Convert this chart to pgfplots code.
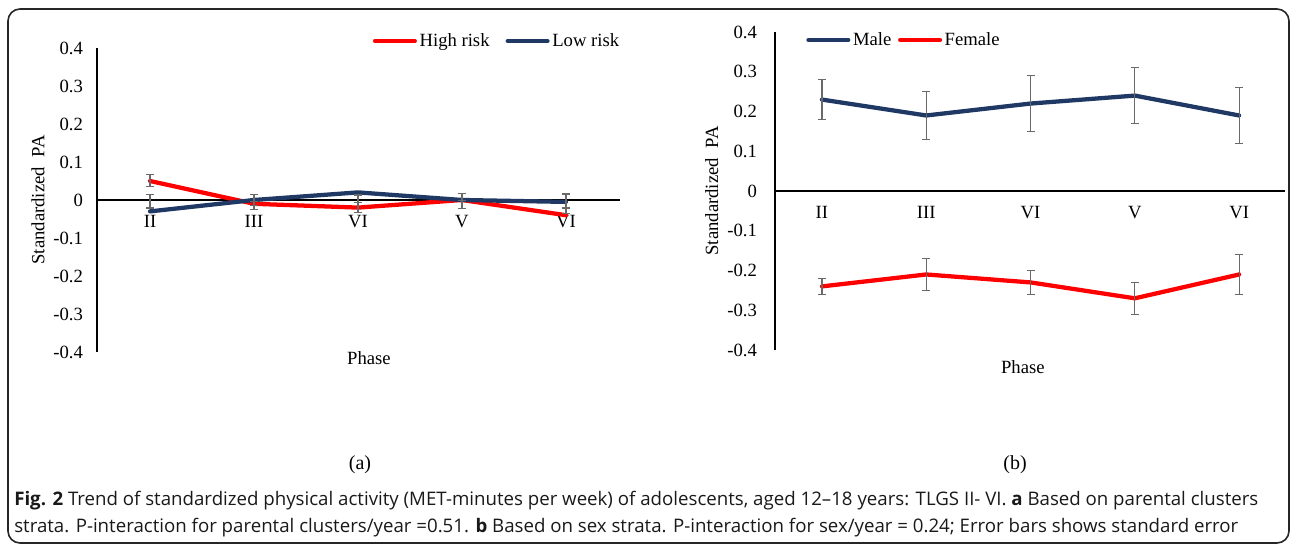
\documentclass[border=0pt]{standalone}
\usepackage{pgfplots}
\usepackage{pgfplotstable}
\pgfplotsset{compat=1.18}
\usepackage{fontspec}
\setmainfont{Liberation Serif}
\newfontfamily\capfont{Open Sans}
\definecolor{navy}{RGB}{31,56,100}
\definecolor{hired}{RGB}{255,0,0}
\definecolor{errgray}{RGB}{105,105,105}

\pgfplotstableread{
x y
0 0.05
1 -0.01
2 -0.02
3 0.00
4 -0.04
}\highrisk
\pgfplotstableread{
x y
0 -0.03
1 0.00
2 0.02
3 0.00
4 -0.005
}\lowrisk
\pgfplotstableread{
x y e
0 0.051 0.016
0 -0.0035 0.0175
1 0.0 0.014
1 -0.0155 0.0105
2 0.0035 0.0095
2 -0.019 0.013
3 0.008 0.01
3 -0.012 0.01
4 -0.0025 0.0185
4 -0.028 0.007
}\errA
\pgfplotstableread{
x y ep em
0 0.23 0.05 0.05
1 0.19 0.06 0.06
2 0.22 0.07 0.07
3 0.24 0.07 0.07
4 0.19 0.07 0.07
}\male
\pgfplotstableread{
x y ep em
0 -0.24 0.02 0.02
1 -0.21 0.04 0.04
2 -0.23 0.03 0.03
3 -0.27 0.04 0.04
4 -0.21 0.05 0.05
}\female

\pgfplotsset{
  panel/.style={
    scale only axis,
    axis x line=middle,
    axis y line=left,
    axis line style={-, black, line width=0.8pt},
    ymin=-0.4, ymax=0.4,
    ytick={-0.4,-0.3,-0.2,-0.1,0,0.1,0.2,0.3,0.4},
    yticklabels={-0.4,-0.3,-0.2,-0.1,0,0.1,0.2,0.3,0.4},
    xtick={0,1,2,3,4},
    xticklabels={II,III,VI,V,VI},
    major tick length=0pt,
    tick label style={font=\fontsize{14}{16}\selectfont},
    xticklabel style={yshift=-8pt},
    legend columns=2,
    legend cell align=left,
    legend style={draw=none, fill=none, inner sep=0pt,
      font=\fontsize{14}{16}\selectfont},
    legend image code/.code={\draw[#1, line width=3pt, line cap=round] (0pt,0pt) -- (30pt,0pt);},
    every axis plot/.append style={line width=3.2pt, line join=round, line cap=round},
    clip=false,
  },
  errs/.style={
    draw=none, mark=none,
    error bars/.cd, y dir=both, y explicit,
    error bar style={draw=errgray, line width=0.9pt, line cap=butt},
    error mark options={rotate=90, mark size=3pt, line width=0.9pt, draw=errgray},
  },
}

\begin{document}
\begin{tikzpicture}
\path (0pt,0pt) rectangle (969pt,411pt);
\draw[line width=1.2pt, rounded corners=9pt, black!85] (6pt,3.75pt) rectangle (966.75pt,404.25pt);

\begin{axis}[panel,
  at={(72.75pt,147pt)}, anchor=south west,
  width=392.25pt, height=228pt,
  xmin=-0.51, xmax=4.52,
  yticklabel style={xshift=-7pt},
  ylabel={Standardized~~PA},
  xlabel={Phase},
  every axis y label/.style={at={(axis description cs:-0.113,0.5)}, rotate=90, anchor=center, font=\fontsize{14}{16}\selectfont},
  every axis x label/.style={at={(axis description cs:0.52,-0.02)}, anchor=center, font=\fontsize{14}{16}\selectfont},
  legend style={at={(axis description cs:1.004,1.023)}, anchor=east,
    /tikz/every even column/.append style={column sep=10pt}},
]
\addplot[hired, mark=none] table[x=x,y=y] {\highrisk};
\addlegendentry{High risk}
\addplot[navy, mark=none] table[x=x,y=y] {\lowrisk};
\addlegendentry{Low risk}
\addplot[forget plot, errs] table[x=x,y=y,y error=e] {\errA};
\end{axis}

\begin{axis}[panel,
  at={(581.25pt,148.5pt)}, anchor=south west,
  width=382.5pt, height=238.5pt,
  xmin=-0.45, xmax=4.44,
  yticklabel style={xshift=-10pt},
  ylabel={Standardized~~PA},
  xlabel={Phase},
  every axis y label/.style={at={(axis description cs:-0.124,0.5)}, rotate=90, anchor=center, font=\fontsize{14}{16}\selectfont},
  every axis x label/.style={at={(axis description cs:0.486,-0.053)}, anchor=center, font=\fontsize{14}{16}\selectfont},
  legend style={at={(axis description cs:0.061,0.975)}, anchor=west,
    /tikz/every even column/.append style={column sep=3pt}},
]
\addplot[navy, mark=none] table[x=x,y=y] {\male};
\addlegendentry{Male}
\addplot[hired, mark=none] table[x=x,y=y] {\female};
\addlegendentry{Female}
\addplot[forget plot, errs] table[x=x,y=y,y error plus=ep,y error minus=em] {\male};
\addplot[forget plot, errs] table[x=x,y=y,y error plus=ep,y error minus=em] {\female};
\end{axis}

\node[font=\fontsize{15}{17}\selectfont] at (270pt,62.25pt) {(a)};
\node[font=\fontsize{15}{17}\selectfont] at (761.25pt,62.25pt) {(b)};
\node[anchor=base west, inner sep=0pt, font=\capfont\fontsize{14}{16}\selectfont, color=black!90] at (10.5pt,31.5pt)
  {\textbf{Fig. 2} Trend of standardized physical activity (MET-minutes per week) of adolescents, aged 12–18 years: TLGS II- VI. \textbf{a} Based on parental clusters};
\node[anchor=base west, inner sep=0pt, font=\capfont\fontsize{14}{16}\selectfont, color=black!90] at (10.5pt,11.25pt)
  {strata. P-interaction for parental clusters/year =0.51. \textbf{b} Based on sex strata. P-interaction for sex/year = 0.24; Error bars shows standard error};
\end{tikzpicture}
\end{document}
